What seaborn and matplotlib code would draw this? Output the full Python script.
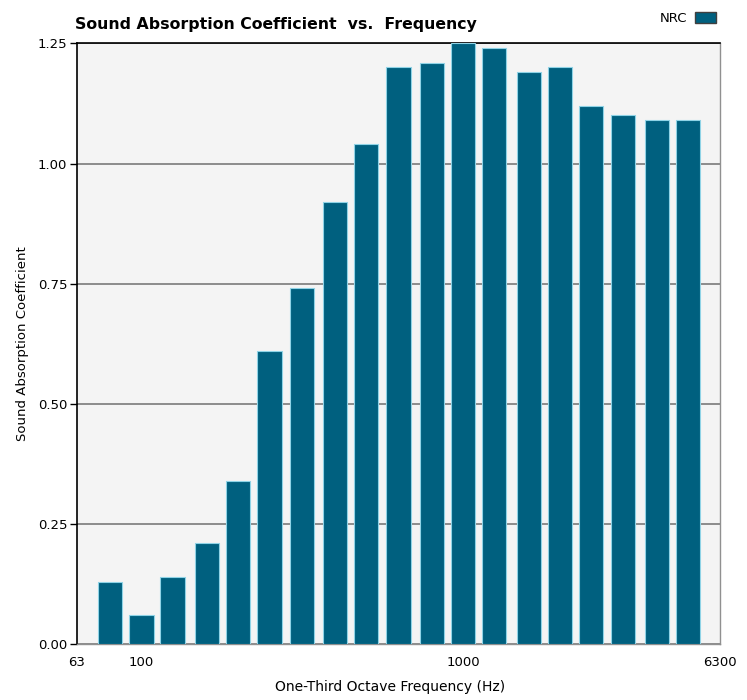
import numpy as np
import matplotlib
matplotlib.use("Agg")
import matplotlib.pyplot as plt
import matplotlib.patches as mpatches
from matplotlib.ticker import FixedLocator, FixedFormatter, NullLocator
import seaborn as sns

# one-third octave band centre frequencies (Hz) and absorption coefficients
freqs = [80, 100, 125, 160, 200, 250, 315, 400, 500, 630,
         800, 1000, 1250, 1600, 2000, 2500, 3150, 4000, 5000]
alpha = [0.13, 0.06, 0.14, 0.21, 0.34, 0.61, 0.74, 0.92, 1.04, 1.20,
         1.21, 1.25, 1.24, 1.19, 1.20, 1.12, 1.10, 1.09, 1.09]

x_ticks = [63, 100, 1000, 6300]
x_tick_labels = ["63", "100", "1000", "6300"]
y_ticks = [0.0, 0.25, 0.5, 0.75, 1.0, 1.25]

bar_color = "#00607f"

sns.set_style("white")
plt.rcParams["font.family"] = ["DejaVu Sans"]
plt.rcParams["text.color"] = "black"
plt.rcParams["axes.labelcolor"] = "black"
plt.rcParams["xtick.color"] = "black"
plt.rcParams["ytick.color"] = "black"

fig = plt.figure(figsize=(7.47, 7.0), dpi=100)
ax = fig.add_axes([0.103, 0.08, 0.861, 0.858])
ax.set_facecolor("#f4f4f4")

sns.barplot(x=freqs, y=alpha, native_scale=True, log_scale=(True, False),
            width=0.78, color=bar_color, saturation=1, edgecolor="#8fd3e6",
            linewidth=0.8, ax=ax, zorder=3)

ax.set_xlim(63, 6300)
ax.set_ylim(0, 1.25)
ax.xaxis.set_major_locator(FixedLocator(x_ticks))
ax.xaxis.set_major_formatter(FixedFormatter(x_tick_labels))
ax.xaxis.set_minor_locator(NullLocator())
ax.set_yticks(y_ticks)
ax.set_yticklabels([f"{v:.2f}" for v in y_ticks])

ax.yaxis.grid(True, color="#7a7a7a", linewidth=1.2, zorder=1)
ax.xaxis.grid(False)
ax.set_axisbelow(True)

ax.tick_params(axis="y", direction="out", length=5, width=1, color="black",
               labelsize=9.5, pad=2, left=True)
ax.tick_params(axis="x", length=0, labelsize=9.5, pad=9)

for side in ["left", "top"]:
    ax.spines[side].set_color("black")
    ax.spines[side].set_linewidth(1.2)
for side in ["right", "bottom"]:
    ax.spines[side].set_color("#909090")
    ax.spines[side].set_linewidth(1.0)

ax.set_xlabel("One-Third Octave Frequency (Hz)", fontsize=10)
ax.xaxis.set_label_coords(0.487, -0.06)
ax.set_ylabel("Sound Absorption Coefficient", fontsize=9.5, labelpad=6)

fig.text(0.1, 0.955, "Sound Absorption Coefficient  vs.  Frequency",
         fontsize=11.3, fontweight="bold", ha="left", va="bottom")

handle = mpatches.Patch(facecolor=bar_color, edgecolor="#404040")
fig.legend([handle], ["NRC"], loc="upper right", bbox_to_anchor=(0.975, 1.0),
           markerfirst=False, frameon=False, fontsize=9.5,
           handlelength=1.6, handleheight=0.9, handletextpad=0.6)

fig.savefig("out.png", dpi=100)
